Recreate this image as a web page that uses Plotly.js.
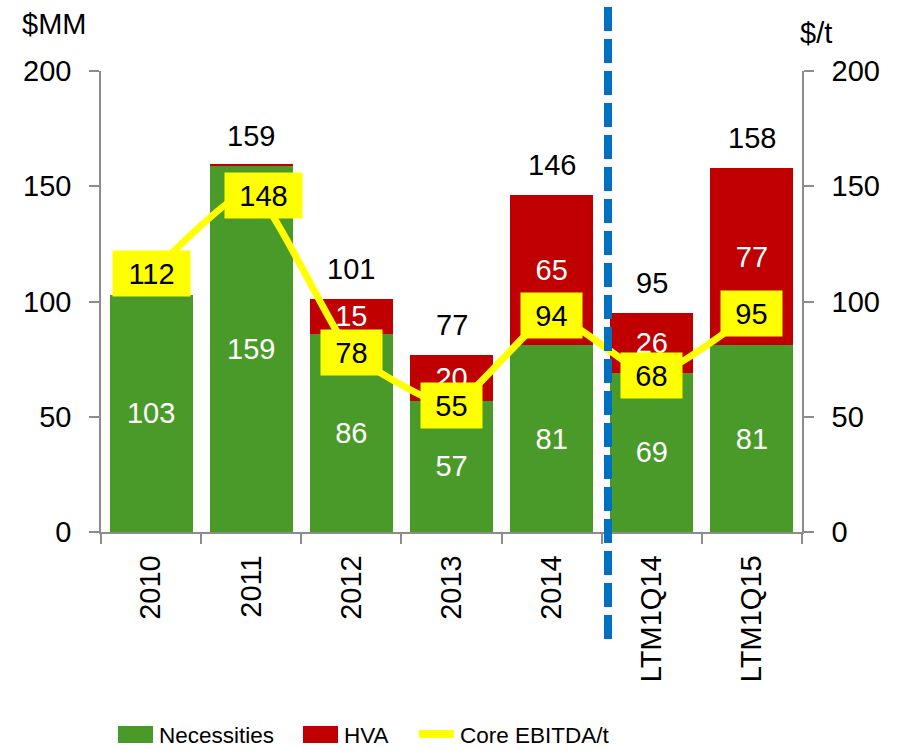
<!DOCTYPE html>
<html>
<head>
<meta charset="utf-8">
<script src="https://cdn.plot.ly/plotly-3.0.1.min.js"></script>
<style>html,body{margin:0;padding:0;background:#fff;}#chart{width:899px;height:750px;}#dbg{position:absolute;left:150px;top:600px;font:14px monospace;width:700px;color:#f00;}</style>
</head>
<body>
<div id="chart"></div>
<div id="dbg"></div>
<script>
window.onerror = function(m){ document.getElementById('dbg').textContent += ' ERR:' + m; };
// ---- data ----
const categories = ['2010', '2011', '2012', '2013', '2014', 'LTM1Q14', 'LTM1Q15'];
const necessities = [103, 159, 86, 57, 81, 69, 81];
const hva = [0, 0.4, 15, 20, 65, 26, 77];
const totals = [null, 159, 101, 77, 146, 95, 158];
const coreEbitdaPerT = [112, 148, 78, 55, 94, 68, 95];
const yTicks = [0, 50, 100, 150, 200];

// ---- style ----
const GREEN = '#4a9a2a', RED = '#c00000', YELLOW = '#ffff00', BLUE = '#0070c0', AXIS = '#8c8c8c';
const FONT = 'Liberation Sans, Arial, sans-serif';
const MARGIN = {l: 101, r: 97, t: 71, b: 218};
const WIDTH = 899, HEIGHT = 750;
const PLOTW = WIDTH - MARGIN.l - MARGIN.r, PLOTH = HEIGHT - MARGIN.t - MARGIN.b;
function toPaperX(x) { return (x - MARGIN.l) / PLOTW; }
function toPaperY(y) { return (HEIGHT - MARGIN.b - y) / PLOTH; }
// pixel nudges for the line labels (style only)
const LABEL_NUDGE = {1: {dx: 12, dy: -5}};

const traces = [
  {type: 'bar', name: 'Necessities', x: categories, y: necessities,
   marker: {color: GREEN}, text: necessities.map(String),
   textposition: 'inside', insidetextanchor: 'middle', constraintext: 'none',
   textfont: {color: '#ffffff', size: 29, family: FONT}, showlegend: false},
  {type: 'bar', name: 'HVA', x: categories, y: hva,
   marker: {color: RED}, text: hva.map(v => v >= 1 ? String(v) : ''),
   textposition: 'inside', insidetextanchor: 'middle', constraintext: 'none',
   textfont: {color: '#ffffff', size: 29, family: FONT}, showlegend: false},
  {type: 'scatter', mode: 'lines', name: 'Core EBITDA/t', x: categories, y: coreEbitdaPerT,
   yaxis: 'y2', line: {color: YELLOW, width: 7, shape: 'spline', smoothing: 0.5},
   showlegend: false}
];

// annotations on the category axis use the category index (serial number)
const annotations = [];
categories.forEach((c, i) => {
  if (totals[i] != null) {
    annotations.push({xref: 'x', yref: 'y', x: i, y: totals[i], text: String(totals[i]),
      showarrow: false, yanchor: 'bottom', yshift: 12,
      font: {size: 29, color: '#000', family: FONT}});
  }
  const t = String(coreEbitdaPerT[i]);
  const n = LABEL_NUDGE[i] || {dx: 0, dy: 0};
  annotations.push({xref: 'x', yref: 'y2', x: i, y: coreEbitdaPerT[i], text: t,
    showarrow: false, xanchor: 'center', yanchor: 'middle', xshift: n.dx, yshift: n.dy,
    bgcolor: YELLOW, borderpad: 3, width: t.length === 3 ? 71 : 55, height: 39,
    font: {size: 29, color: '#000', family: FONT}});
});
annotations.push({xref: 'paper', yref: 'paper', x: 0, y: 1, xshift: -47, yshift: 47,
  xanchor: 'center', yanchor: 'middle', text: '$MM', showarrow: false,
  font: {size: 29, color: '#000', family: FONT}});
annotations.push({xref: 'paper', yref: 'paper', x: 1, y: 1, xshift: 14, yshift: 38,
  xanchor: 'center', yanchor: 'middle', text: '$/t', showarrow: false,
  font: {size: 29, color: '#000', family: FONT}});
const legendItems = [
  {label: 'Necessities', tx: 157},
  {label: 'HVA', tx: 342},
  {label: 'Core EBITDA/t', tx: 458}
];
legendItems.forEach(it => annotations.push({xref: 'paper', yref: 'paper', x: toPaperX(it.tx), y: toPaperY(735),
  xanchor: 'left', yanchor: 'middle', text: it.label, showarrow: false,
  font: {size: 22.5, color: '#000', family: FONT}}));

const shapes = [
  {type: 'line', xref: 'paper', yref: 'paper', x0: toPaperX(608), x1: toPaperX(608), y0: toPaperY(7), y1: toPaperY(640),
   line: {color: BLUE, width: 8, dash: '24px,8px'}},
  {type: 'rect', xref: 'paper', yref: 'paper', x0: toPaperX(118), x1: toPaperX(153), y0: toPaperY(743), y1: toPaperY(726),
   fillcolor: GREEN, line: {width: 0}},
  {type: 'rect', xref: 'paper', yref: 'paper', x0: toPaperX(303), x1: toPaperX(338), y0: toPaperY(743), y1: toPaperY(726),
   fillcolor: RED, line: {width: 0}},
  {type: 'line', xref: 'paper', yref: 'paper', x0: toPaperX(419), x1: toPaperX(454), y0: toPaperY(734), y1: toPaperY(734),
   line: {color: YELLOW, width: 8}}
];

function yAxis(side) {
  return {range: [0, 200], tickvals: yTicks.slice(), showgrid: false, zeroline: false,
    showline: true, linecolor: AXIS, linewidth: 1.5, ticks: 'outside', ticklen: 10, tickwidth: 1.5,
    tickcolor: AXIS, ticklabelstandoff: 12, tickfont: {size: 29, color: '#000', family: FONT}, side: side};
}
const y2 = yAxis('right'); y2.overlaying = 'y';

const layout = {
  width: WIDTH, height: HEIGHT, margin: MARGIN, paper_bgcolor: '#fff', plot_bgcolor: '#fff',
  barmode: 'stack', bargap: 0.17, showlegend: false,
  font: {family: FONT, color: '#000'},
  xaxis: {type: 'category', range: [-0.5, categories.length - 0.5], showgrid: false, zeroline: false,
    showline: true, linecolor: AXIS, linewidth: 1.5, ticks: 'outside', ticklen: 10, tickwidth: 1.5,
    tickcolor: AXIS, tickson: 'boundaries', tickangle: -90, ticklabelstandoff: 10,
    tickfont: {size: 29, color: '#000', family: FONT}},
  yaxis: yAxis('left'),
  yaxis2: y2,
  annotations: annotations,
  shapes: shapes
};

Plotly.newPlot('chart', traces, layout, {displayModeBar: false})
  .catch(function(e){ document.getElementById('dbg').textContent += ' REJ:' + e; });
</script>
</body>
</html>
